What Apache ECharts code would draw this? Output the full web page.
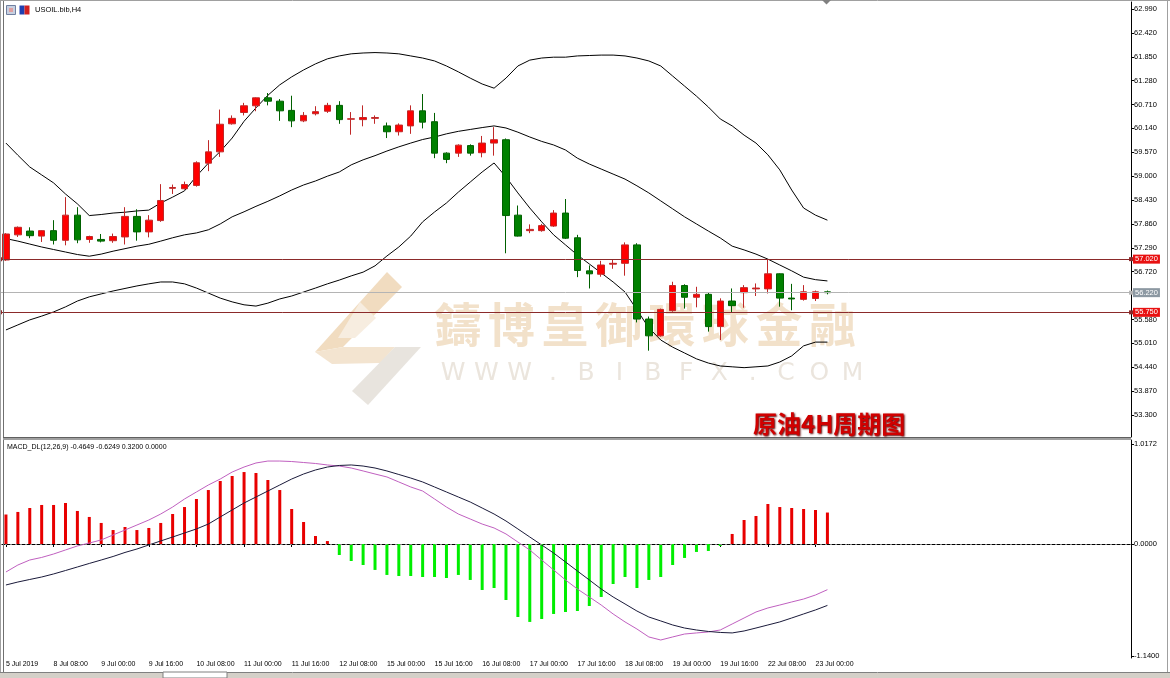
<!DOCTYPE html>
<html><head><meta charset="utf-8">
<script src="https://cdn.jsdelivr.net/npm/echarts@6/dist/echarts.min.js"></script>
<style>html,body{margin:0;padding:0;background:#fff;overflow:hidden}#c{width:1170px;height:678px}</style>
</head><body><div id="c"></div>
<script>
// ---- data ----
const categories = ['5 Jul 16:00','5 Jul 20:00',
'8 Jul 00:00','8 Jul 04:00','8 Jul 08:00','8 Jul 12:00','8 Jul 16:00','8 Jul 20:00',
'9 Jul 00:00','9 Jul 04:00','9 Jul 08:00','9 Jul 12:00','9 Jul 16:00','9 Jul 20:00',
'10 Jul 00:00','10 Jul 04:00','10 Jul 08:00','10 Jul 12:00','10 Jul 16:00','10 Jul 20:00',
'11 Jul 00:00','11 Jul 04:00','11 Jul 08:00','11 Jul 12:00','11 Jul 16:00','11 Jul 20:00',
'12 Jul 00:00','12 Jul 04:00','12 Jul 08:00','12 Jul 12:00','12 Jul 16:00','12 Jul 20:00',
'15 Jul 00:00','15 Jul 04:00','15 Jul 08:00','15 Jul 12:00','15 Jul 16:00','15 Jul 20:00',
'16 Jul 00:00','16 Jul 04:00','16 Jul 08:00','16 Jul 12:00','16 Jul 16:00','16 Jul 20:00',
'17 Jul 00:00','17 Jul 04:00','17 Jul 08:00','17 Jul 12:00','17 Jul 16:00','17 Jul 20:00',
'18 Jul 00:00','18 Jul 04:00','18 Jul 08:00','18 Jul 12:00','18 Jul 16:00','18 Jul 20:00',
'19 Jul 00:00','19 Jul 04:00','19 Jul 08:00','19 Jul 12:00','19 Jul 16:00','19 Jul 20:00',
'22 Jul 00:00','22 Jul 04:00','22 Jul 08:00','22 Jul 12:00','22 Jul 16:00','22 Jul 20:00',
'23 Jul 00:00','23 Jul 04:00'];
const firstLabel = '5 Jul 2019';

const open  = [57.00,57.60,57.69,57.57,57.70,57.47,58.07,57.49,57.49,57.46,57.55,58.04,57.67,57.94,58.71,58.70,58.78,59.31,59.58,60.25,60.52,60.68,60.87,60.79,60.57,60.32,60.49,60.55,60.69,60.36,60.35,60.38,60.20,60.06,60.20,60.56,60.30,59.55,59.55,59.73,59.56,59.79,59.87,58.07,57.70,57.70,57.81,58.12,57.53,56.74,56.66,56.90,56.92,57.36,55.59,55.19,55.79,56.39,56.11,56.18,55.41,56.02,56.22,56.31,56.31,56.67,56.09,56.06,56.08,56.24];
const close = [57.62,57.78,57.58,57.70,57.47,58.07,57.48,57.56,57.45,57.56,58.04,57.67,57.95,58.42,58.73,58.80,59.32,59.58,60.24,60.38,60.68,60.87,60.79,60.56,60.32,60.45,60.54,60.69,60.35,60.37,60.40,60.40,60.06,60.22,60.56,60.29,59.55,59.40,59.74,59.55,59.79,59.87,58.06,57.57,57.73,57.82,58.12,57.52,56.75,56.67,56.88,56.92,57.36,55.59,55.19,55.82,56.39,56.11,56.18,55.41,56.02,55.91,56.34,56.33,56.67,56.09,56.07,56.24,56.24,56.22];
const high  = [57.64,57.80,57.78,57.71,57.95,58.50,58.26,57.58,57.62,57.63,58.26,58.21,58.07,58.81,58.80,58.87,59.355,59.86,60.59,60.45,60.75,60.88,60.985,60.84,60.92,60.53,60.67,60.75,60.79,60.53,60.69,60.45,60.28,60.26,60.69,60.96,60.51,59.57,59.76,59.76,59.96,60.17,59.90,58.30,57.85,57.86,58.19,58.455,57.60,56.87,56.98,57.02,57.42,57.40,55.65,55.84,56.48,56.42,56.36,56.23,56.085,56.32,56.40,56.44,57.02,56.68,56.43,56.40,56.27,56.27];
const low   = [56.98,57.55,57.52,57.43,57.37,57.35,57.40,57.41,57.42,57.41,57.37,57.46,57.54,57.91,58.575,58.68,58.75,59.12,59.46,60.23,60.45,60.55,60.69,60.32,60.17,60.29,60.45,60.51,60.25,59.99,60.19,60.25,59.91,59.97,60.01,60.14,59.43,59.31,59.46,59.49,59.45,59.49,57.16,57.56,57.64,57.675,57.79,57.50,56.59,56.32,56.60,56.79,56.625,55.51,54.835,55.17,55.765,55.84,55.87,55.29,55.09,55.74,55.86,56.14,56.20,55.885,55.80,56.03,56.02,56.18];

const bbUpper  = [59.79,59.50,59.22,59.03,58.84,58.575,58.34,58.06,58.085,58.12,58.14,58.17,58.19,58.36,58.50,58.65,59.00,59.31,59.59,59.91,60.31,60.63,60.93,61.18,61.37,61.535,61.68,61.80,61.87,61.92,61.94,61.95,61.94,61.92,61.87,61.82,61.75,61.63,61.49,61.34,61.20,61.10,61.34,61.63,61.77,61.82,61.84,61.84,61.87,61.88,61.89,61.89,61.87,61.82,61.75,61.63,61.39,61.15,60.91,60.65,60.365,60.20,59.98,59.79,59.51,59.15,58.67,58.24,58.07,57.95];
const bbMiddle = [57.51,57.45,57.38,57.31,57.25,57.19,57.13,57.09,57.14,57.21,57.27,57.33,57.375,57.45,57.53,57.60,57.645,57.72,57.86,58.03,58.15,58.28,58.40,58.53,58.67,58.79,58.885,59.00,59.10,59.27,59.39,59.49,59.60,59.70,59.79,59.875,59.935,60.01,60.07,60.115,60.16,60.20,60.15,60.05,59.935,59.83,59.745,59.625,59.43,59.29,59.17,59.05,58.93,58.77,58.60,58.41,58.22,58.03,57.86,57.69,57.525,57.33,57.24,57.14,57.02,56.88,56.74,56.59,56.53,56.50];
const bbLower  = [55.33,55.45,55.57,55.66,55.76,55.88,56.02,56.12,56.19,56.26,56.32,56.38,56.43,56.475,56.475,56.43,56.33,56.21,56.09,56.00,55.93,55.90,55.97,56.07,56.14,56.235,56.33,56.43,56.52,56.62,56.71,56.86,57.095,57.31,57.57,57.91,58.145,58.36,58.62,58.86,59.10,59.315,58.98,58.60,58.24,57.91,57.60,57.36,57.12,56.905,56.69,56.475,56.235,55.81,55.38,55.09,54.92,54.78,54.64,54.54,54.47,54.45,54.43,54.45,54.47,54.565,54.71,54.95,55.04,55.04];

const macdHist = [0.30,0.326,0.366,0.397,0.397,0.417,0.336,0.275,0.214,0.142,0.173,0.142,0.163,0.214,0.305,0.376,0.458,0.549,0.641,0.692,0.732,0.722,0.651,0.549,0.356,0.224,0.081,0.03,-0.112,-0.173,-0.214,-0.264,-0.315,-0.326,-0.326,-0.336,-0.336,-0.346,-0.315,-0.366,-0.468,-0.448,-0.570,-0.743,-0.793,-0.763,-0.712,-0.692,-0.682,-0.631,-0.539,-0.407,-0.336,-0.448,-0.366,-0.336,-0.214,-0.142,-0.081,-0.071,-0.02,0.102,0.244,0.285,0.407,0.376,0.366,0.356,0.346,0.32];
const macdDif = [-0.285,-0.214,-0.163,-0.137,-0.102,-0.061,-0.020,0.010,0.041,0.092,0.142,0.193,0.244,0.305,0.376,0.458,0.529,0.600,0.661,0.732,0.783,0.824,0.844,0.844,0.839,0.829,0.819,0.804,0.793,0.773,0.743,0.712,0.682,0.631,0.580,0.539,0.458,0.376,0.305,0.254,0.203,0.163,0.102,0.020,-0.061,-0.163,-0.264,-0.366,-0.458,-0.539,-0.621,-0.712,-0.793,-0.865,-0.946,-0.977,-0.946,-0.916,-0.905,-0.895,-0.875,-0.814,-0.753,-0.692,-0.651,-0.621,-0.590,-0.560,-0.519,-0.4649];
const macdDea = [-0.417,-0.387,-0.361,-0.336,-0.305,-0.270,-0.234,-0.198,-0.163,-0.127,-0.086,-0.051,-0.010,0.031,0.071,0.112,0.153,0.203,0.275,0.346,0.417,0.478,0.539,0.600,0.661,0.712,0.753,0.783,0.799,0.804,0.793,0.773,0.743,0.707,0.671,0.631,0.580,0.529,0.478,0.427,0.366,0.305,0.234,0.153,0.071,-0.010,-0.092,-0.183,-0.275,-0.366,-0.458,-0.539,-0.610,-0.682,-0.743,-0.783,-0.824,-0.855,-0.875,-0.890,-0.900,-0.905,-0.885,-0.855,-0.824,-0.793,-0.753,-0.712,-0.671,-0.6249];

const priceTicks = [62.99,62.42,61.85,61.28,60.71,60.14,59.57,59.00,58.43,57.86,57.29,56.72,55.58,55.01,54.44,53.87,53.30];
const macdTicks = [1.0172, 0, -1.14];
const levelLines = [57.02, 55.75];
const bidLine = 56.22;
const macdLegend = 'MACD_DL(12,26,9) -0.4649 -0.6249 0.3200 0.0000';
const symbolTitle = 'USOIL.bib,H4';
const chartTitle = '原油4H周期图';
const watermarkCN = ['鑄','博','皇','御','環','球','金','融'];
const watermarkEN = ['W','W','W','.','B','I','B','F','X','.','C','O','M'];

// ---- chart ----
const FF = 'Liberation Sans';
const PAD = 25;
const xData = categories.concat(new Array(PAD).fill(''));
const ohlc = open.map((o, i) => [o, close[i], low[i], high[i]]);
const nReal = categories.length;
const isTick = (i) => i % 4 === 0 && i < nReal;

const wmGraphics = [];
watermarkCN.forEach((ch, k) => wmGraphics.push({type:'text', z:0, x:458 + k*53.5, y:324,
  style:{text:ch, fill:'#f2e1ca', font:'bold 47px "Noto Sans CJK TC"', textAlign:'center', textVerticalAlign:'middle'}}));
watermarkEN.forEach((ch, k) => wmGraphics.push({type:'text', z:0, x:453 + k*33.3, y:373,
  style:{text:ch, fill:'#ebe5dd', font:'25px "DejaVu Sans"', textAlign:'center', textVerticalAlign:'middle'}}));
// logo
wmGraphics.push(
  {type:'polygon', z:0, shape:{points:[[387,272],[402,287],[343,347],[315,352]]}, style:{fill:'#f1dcc0'}},
  {type:'polygon', z:0, shape:{points:[[315,352],[343,347],[395,347],[380,363],[332,364]]}, style:{fill:'#f3e4d0'}},
  {type:'polygon', z:0, shape:{points:[[395,347],[421,347],[368,405],[352,391]]}, style:{fill:'#e8e4de'}},
  {type:'polygon', z:0, shape:{points:[[360,302],[376,318],[355,338],[338,338]]}, style:{fill:'#f7ede0'}}
);

const frame = [
  {type:'line', z:100, shape:{x1:0.5,y1:0,x2:0.5,y2:678}, style:{stroke:'#a0a0a0',lineWidth:1}},
  {type:'line', z:100, shape:{x1:3.5,y1:0,x2:3.5,y2:672}, style:{stroke:'#707070',lineWidth:1}},
  {type:'line', z:100, shape:{x1:0,y1:0.5,x2:1170,y2:0.5}, style:{stroke:'#a0a0a0',lineWidth:1}},
  {type:'line', z:100, shape:{x1:1167.5,y1:0,x2:1167.5,y2:678}, style:{stroke:'#a0a0a0',lineWidth:1}},
  {type:'rect', z:100, shape:{x:3,y:437,width:1128,height:3}, style:{fill:'#a0a0a0'}},
  {type:'line', z:100, shape:{x1:3,y1:437.5,x2:1131,y2:437.5}, style:{stroke:'#606060',lineWidth:1}},
  {type:'rect', z:100, shape:{x:0,y:673,width:1170,height:5}, style:{fill:'#d4d0c8'}},
  {type:'line', z:100, shape:{x1:0,y1:672.5,x2:1170,y2:672.5}, style:{stroke:'#808080',lineWidth:1}},
  {type:'rect', z:101, shape:{x:163,y:672,width:64,height:6}, style:{fill:'#ffffff',stroke:'#808080',lineWidth:1}},
  {type:'polygon', z:100, shape:{points:[[822,0],[831,0],[826.5,4.5]]}, style:{fill:'#808080'}},
  // icons
  {type:'rect', z:100, shape:{x:6.5,y:5.5,width:9,height:9}, style:{fill:'#c8d0e0',stroke:'#7080a0',lineWidth:1}},
  {type:'rect', z:100, shape:{x:9,y:8,width:4,height:4}, style:{fill:'#e0a0a0'}},
  {type:'rect', z:100, shape:{x:19.5,y:5.5,width:5,height:9}, style:{fill:'#2040b0'}},
  {type:'rect', z:100, shape:{x:24.5,y:5.5,width:5,height:9}, style:{fill:'#d02020'}},
  {type:'text', z:100, x:35, y:10, style:{text:symbolTitle, fill:'#000', font:'7.5px "'+FF+'"', textVerticalAlign:'middle'}},
  {type:'text', z:100, x:7, y:447, style:{text:macdLegend, fill:'#000', font:'7px "'+FF+'"', textVerticalAlign:'middle'}},
  {type:'text', z:100, x:753, y:424, style:{text:chartTitle, fill:'#d00000', font:'bold 24px "Noto Sans CJK SC"', textVerticalAlign:'middle',
     textShadowColor:'#600000', textShadowBlur:2, textShadowOffsetX:1, textShadowOffsetY:1}}
];

const levelData = levelLines.map(v => ({
  yAxis: v,
  lineStyle: {color:'#8b2a2a', width:1, type:'solid'},
  label: {show:true, position:'end', distance:2, formatter: () => v.toFixed(3), color:'#fff',
          backgroundColor:'#e81010', padding:[1,2,0,2], fontSize:7.5, fontFamily:FF}
}));
levelData.push({
  yAxis: bidLine, symbol:'none',
  lineStyle: {color:'#b4b4b4', width:1, type:'solid'},
  label: {show:true, position:'end', distance:2, formatter: () => bidLine.toFixed(3), color:'#fff',
          backgroundColor:'#8c98a2', padding:[1,2,0,2], fontSize:7.5, fontFamily:FF}
});

const option = {
  animation:false,
  backgroundColor:'#ffffff',
  graphic: wmGraphics.concat(frame),
  grid:[{left:0,right:39,top:2,height:435},{left:0,right:39,top:440,height:218}],
  xAxis:[
    {type:'category', gridIndex:0, data:xData, boundaryGap:true, axisLine:{show:false}, axisTick:{show:false}, axisLabel:{show:false}, splitLine:{show:false}},
    {type:'category', gridIndex:1, data:xData, boundaryGap:true,
     axisLine:{show:true, lineStyle:{color:'#000', width:1}},
     axisTick:{show:true, alignWithLabel:true, interval:(i)=>isTick(i), length:3, lineStyle:{color:'#000'}},
     axisLabel:{show:true, interval:(i)=>isTick(i), formatter:(v,i)=> i===0 ? firstLabel : v, align:'left', margin:3,
                fontSize:7, fontFamily:FF, color:'#000'},
     splitLine:{show:false}}
  ],
  yAxis:[
    {type:'value', gridIndex:0, position:'right', min:52.775, max:63.157,
     axisLine:{show:true, lineStyle:{color:'#000'}},
     axisTick:{show:true, length:3, customValues:priceTicks, lineStyle:{color:'#000'}},
     axisLabel:{show:true, customValues:priceTicks, formatter:(v)=>v.toFixed(3), margin:3, fontSize:7.5, fontFamily:FF, color:'#000'},
     splitLine:{show:false}},
    {type:'value', gridIndex:1, position:'right', min:-1.160, max:1.058,
     axisLine:{show:true, lineStyle:{color:'#000'}},
     axisTick:{show:true, length:3, customValues:macdTicks, lineStyle:{color:'#000'}},
     axisLabel:{show:true, customValues:macdTicks, formatter:(v)=>v.toFixed(4), margin:3, fontSize:7.5, fontFamily:FF, color:'#000'},
     splitLine:{show:false}}
  ],
  series:[
    {type:'line', xAxisIndex:0, yAxisIndex:0, data:bbUpper, symbol:'none', lineStyle:{color:'#000', width:1}, z:3},
    {type:'line', xAxisIndex:0, yAxisIndex:0, data:bbMiddle, symbol:'none', lineStyle:{color:'#000', width:1}, z:3},
    {type:'line', xAxisIndex:0, yAxisIndex:0, data:bbLower, symbol:'none', lineStyle:{color:'#000', width:1}, z:3},
    {type:'candlestick', xAxisIndex:0, yAxisIndex:0, data:ohlc, barWidth:7, clip:false, z:4,
     itemStyle:{color:'#ff0000', color0:'#008000', borderColor:'#c02828', borderColor0:'#006000', borderWidth:1},
     markLine:{silent:true, animation:false, symbol:['rect','rect'], symbolSize:4, data:levelData}},
    {type:'bar', xAxisIndex:1, yAxisIndex:1, data:macdHist, barWidth:3,
     itemStyle:{color:(p)=> p.value >= 0 ? '#e80000' : '#00ee00'},
     markLine:{silent:true, animation:false, symbol:'none', label:{show:false},
               data:[{yAxis:0}], lineStyle:{color:'#808080', type:[2,3], width:1}}},
    {type:'line', xAxisIndex:1, yAxisIndex:1, data:macdDif, symbol:'none', lineStyle:{color:'#c060c0', width:1}},
    {type:'line', xAxisIndex:1, yAxisIndex:1, data:macdDea, symbol:'none', lineStyle:{color:'#1a1a3a', width:1}}
  ]
};
const chart = echarts.init(document.getElementById('c'), null, {renderer:'canvas'});
chart.setOption(option);
</script></body></html>
